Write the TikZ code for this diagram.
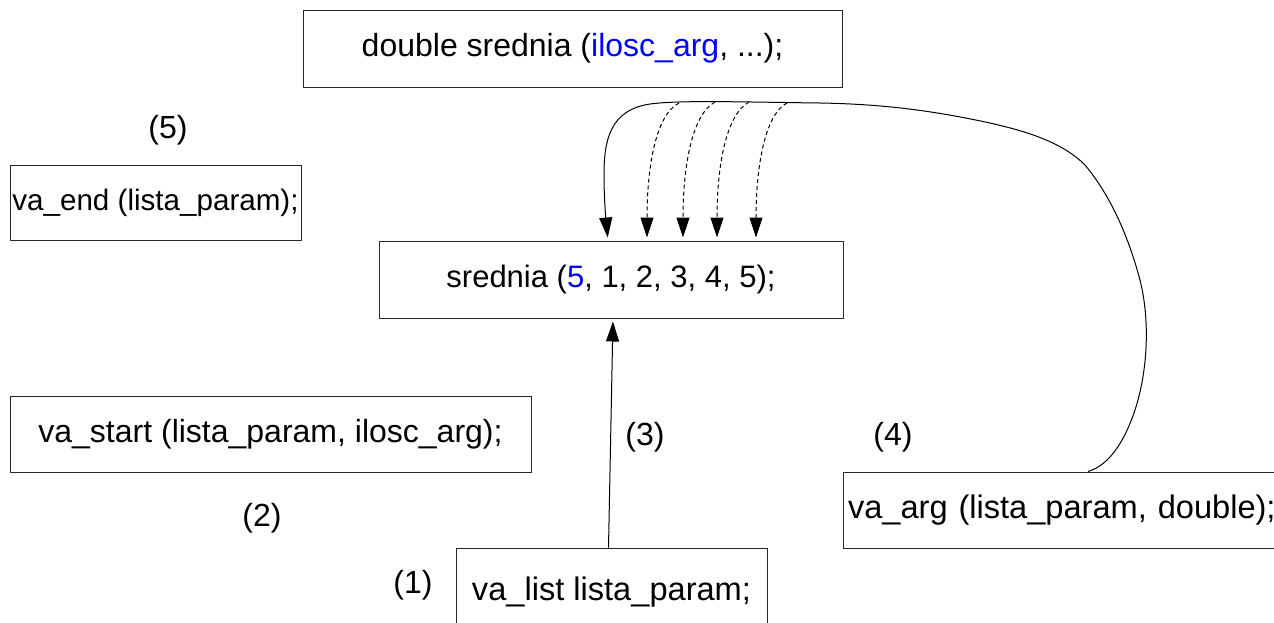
\documentclass[tikz,border=0pt]{standalone}
\usepackage{fontspec}
\setmainfont{Liberation Sans}
\usetikzlibrary{arrows.meta}
\definecolor{argblue}{RGB}{0,0,255}
\tikzset{box/.style={draw=black!85, line width=1pt, inner sep=0pt, font=\fontsize{32}{36}\selectfont},
  lbl/.style={inner sep=0pt, font=\fontsize{32}{36}\selectfont},
  conn/.style={line width=1pt, -{Triangle[length=20pt,width=13pt]}, shorten >=3pt},
  dconn/.style={conn, dash pattern=on 4pt off 3pt}}

\begin{document}
\begin{tikzpicture}[x=1pt,y=-1pt]
\useasboundingbox (0,0) rectangle (1274,622);
\node[box, minimum width=539pt, minimum height=77pt] (decl) at (572.5,48.5) {double srednia (\textcolor{argblue}{ilosc\_arg}, ...);};
\node[box, minimum width=291pt, minimum height=75pt, font=\fontsize{29.6}{34}\selectfont] (vaend) at (155.5,202.5) {va\_end (lista\_param);};
\node[box, minimum width=464pt, minimum height=77pt, font=\fontsize{31}{36}\selectfont] (call) at (611,279.5) {srednia (\textcolor{argblue}{5}, 1, 2, 3, 4, 5);};
\node[box, minimum width=521pt, minimum height=76pt] (vastart) at (270.5,434) {va\_start (lista\_param, ilosc\_arg);};
\node[box, minimum width=440pt, minimum height=76pt, text width=430pt, font=\fontsize{32.6}{36}\selectfont] (vaarg) at (1063,510) {va\_arg (lista\_param, double);};
\node[box, minimum width=311pt, minimum height=88pt, font=\fontsize{32.6}{36}\selectfont] (valist) at (611.5,592) {va\_list lista\_param;};
%\node[box] (valist) at (611.5,586) {};

\node[lbl] (n1) at (413,585) {(1)};
\node[lbl] (n2) at (262,518) {(2)};
\node[lbl] (n3) at (645,437) {(3)};
\node[lbl] (n4) at (893,437) {(4)};
\node[lbl] (n5) at (168,130) {(5)};

\draw[conn] ([xshift=-3pt]valist.north) -- ([xshift=2pt]call.south);

\draw[conn] ([xshift=25pt]vaarg.north) .. controls (1110,465) and (1125,440) .. (1135,410)
  .. controls (1148,370) and (1150,320) .. (1140,280)
  .. controls (1128,235) and (1110,195) .. (1085,165)
  .. controls (1060,140) and (1020,130) .. (990,123)
  .. controls (930,110) and (880,104) .. (820,103)
  .. controls (740,102) and (680,100) .. (650,104)
  .. controls (610,110) and (604,140) .. (604,175)
  .. controls (604,200) and (606,220) .. ([xshift=-3pt]call.north);

\coordinate (d1) at (679,103);
\coordinate (d2) at (715,102);
\coordinate (d3) at (749,102);
\coordinate (d4) at (787,103);
\draw[dconn] (d1) .. controls (655,115) and (647,170) .. ([xshift=36pt]call.north);
\draw[dconn] (d2) .. controls (691,115) and (683,170) .. ([xshift=72pt]call.north);
\draw[dconn] (d3) .. controls (725,115) and (717,170) .. ([xshift=106pt]call.north);
\draw[dconn] (d4) .. controls (764,115) and (756,170) .. ([xshift=145pt]call.north);
\end{tikzpicture}
\end{document}
